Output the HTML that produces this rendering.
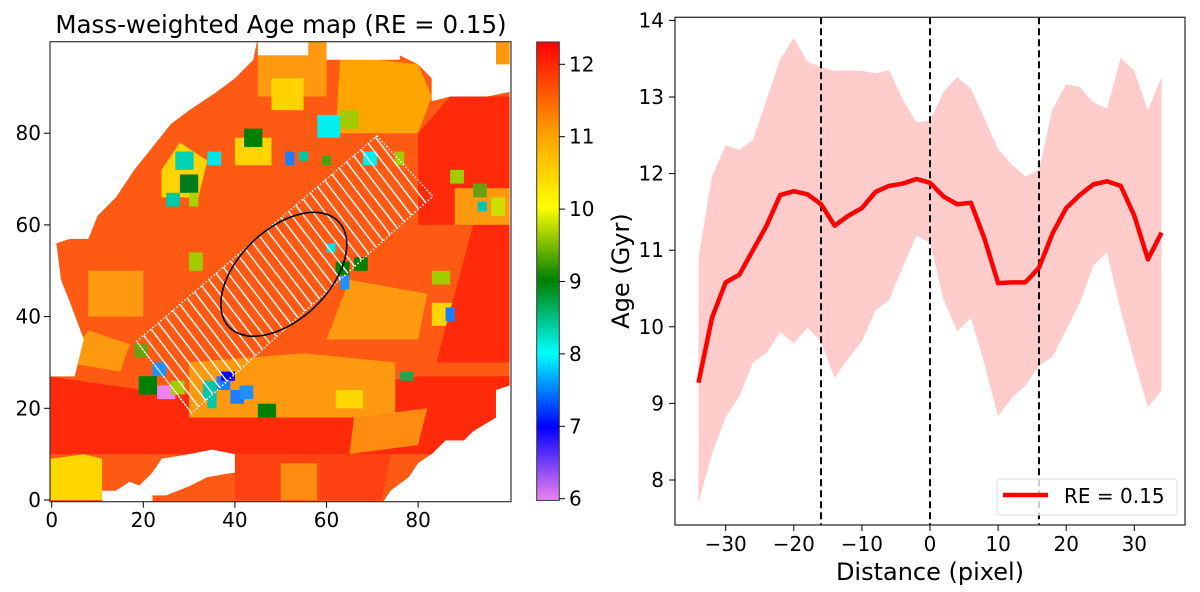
<!DOCTYPE html>
<html><head><meta charset="utf-8"><style>
body{margin:0;background:#fff;}
svg{display:block;font-family:"DejaVu Sans","Liberation Sans",sans-serif;}
</style></head><body>
<svg id="fig" width="1200" height="592" viewBox="0 0 1200 592">
<defs>
<linearGradient id="cbar" x1="0" y1="1" x2="0" y2="0">
<stop offset="0" stop-color="#ee82ee"/>
<stop offset="0.16" stop-color="#0000ff"/>
<stop offset="0.32" stop-color="#00ffff"/>
<stop offset="0.48" stop-color="#008000"/>
<stop offset="0.64" stop-color="#ffff00"/>
<stop offset="0.80" stop-color="#ffa000"/>
<stop offset="1" stop-color="#ff0000"/>
</linearGradient>
<clipPath id="mapclip"><rect x="50" y="41.7" width="461" height="460"/></clipPath>
<clipPath id="outlineclip"><polygon id="outlinepoly" points="0,0"/></clipPath>
<clipPath id="slitclip"><polygon points="376.9,135.8 432.7,196.2 191.5,413.2 136.5,341.5"/></clipPath>
</defs>
<g id="left"></g>
<g id="right"></g>
</svg>
<script>
// ---------- profile data ----------
const distances = [-34,-32,-30,-28,-26,-24,-22,-20,-18,-16,-14,-12,-10,-8,-6,-4,-2,0,2,4,6,8,10,12,14,16,18,20,22,24,26,28,30,32,34];
const ageMean = [9.27,10.12,10.58,10.68,11.0,11.32,11.72,11.77,11.73,11.6,11.32,11.45,11.55,11.76,11.84,11.87,11.93,11.88,11.7,11.6,11.62,11.15,10.57,10.58,10.58,10.77,11.22,11.55,11.72,11.86,11.9,11.84,11.45,10.88,11.23];
const ageUpper = [10.9,11.97,12.37,12.31,12.44,12.97,13.49,13.77,13.46,13.39,13.34,13.35,13.34,13.31,13.35,12.97,12.67,12.69,13.07,13.26,13.11,12.72,12.32,12.12,11.96,12.05,12.84,13.17,13.13,12.93,12.85,13.51,13.34,12.83,13.26];
const ageLower = [7.70,8.35,8.82,9.09,9.53,9.66,9.93,9.78,9.99,9.81,9.33,9.59,9.81,10.22,10.35,10.78,11.19,11.1,10.35,9.94,10.12,9.51,8.83,9.07,9.23,9.49,9.61,9.96,10.31,10.8,10.97,10.21,9.56,8.95,9.17];
const xTicks = [-30,-20,-10,0,10,20,30];
const yTicks = [8,9,10,11,12,13,14];
const vLines = [-16,0,16];
// ---------- map ticks ----------
const mapXTicks = [0,20,40,60,80];
const mapYTicks = [0,20,40,60,80];
const cbarTicks = [6,7,8,9,10,11,12];

const NS="http://www.w3.org/2000/svg";
function mk(parent,tag,attrs,text){const e=document.createElementNS(NS,tag);for(const k in attrs)e.setAttribute(k,attrs[k]);if(text!==undefined)e.textContent=text;parent.appendChild(e);return e;}

// ===== RIGHT PANEL =====
const R=document.getElementById('right');
const px=v=>930+v*6.81;
const py=v=>480-(v-8)*76.6;
let band=distances.map((d,i)=>px(d)+','+py(ageUpper[i])).join(' ')+' '+distances.slice().reverse().map((d,j)=>{const i=distances.length-1-j;return px(d)+','+py(ageLower[i]);}).join(' ');
const bandEl=mk(R,'polygon',{points:band,fill:'#ffcccc',stroke:'none'});


vLines.forEach(v=>{
  const l=mk(R,'line',{x1:px(v),x2:px(v),y1:17.3,y2:525,stroke:'#000','stroke-width':2,'stroke-dasharray':'7,4'});
  
  
});
const line=mk(R,'polyline',{points:distances.map((d,i)=>px(d)+','+py(ageMean[i])).join(' '),fill:'none',stroke:'#ff0000','stroke-width':4.5,'stroke-linejoin':'round'});


const frame=mk(R,'rect',{x:675,y:17.3,width:510,height:507.7,fill:'none',stroke:'#333','stroke-width':1.3});


xTicks.forEach(t=>{
  mk(R,'line',{x1:px(t),x2:px(t),y1:525,y2:531,stroke:'#000'});
  const tx=mk(R,'text',{x:px(t),y:551,'font-size':20,'text-anchor':'middle'},(t<0?'\u2212':'')+Math.abs(t));
  
  
});
yTicks.forEach(t=>{
  mk(R,'line',{x1:669,x2:675,y1:py(t),y2:py(t),stroke:'#000'});
  const tx=mk(R,'text',{x:664,y:py(t)+7,'font-size':20,'text-anchor':'end'},String(t));
  
  
});
const xl=mk(R,'text',{x:930,y:580,'font-size':24,'text-anchor':'middle'},'Distance (pixel)');


const yl=mk(R,'text',{x:0,y:0,'font-size':24,'text-anchor':'middle',transform:'translate(629,271) rotate(-90)'},'Age (Gyr)');


const lg=mk(R,'g',{});


mk(lg,'rect',{x:997,y:479,width:180,height:36,fill:'#fff','fill-opacity':0.8,stroke:'#ddd',rx:3});
mk(lg,'line',{x1:1003,x2:1048,y1:495,y2:495,stroke:'#ff0000','stroke-width':4.5});
mk(lg,'text',{x:1064,y:503,'font-size':20},'RE = 0.15');

// ===== LEFT PANEL =====
const L=document.getElementById('left');
const mx=x=>51.7+x*4.58, my=y=>500-y*4.585;
const P=pts=>pts.map(p=>mx(p[0]).toFixed(1)+','+my(p[1]).toFixed(1)).join(' ');
const img=mk(L,'g',{'clip-path':'url(#mapclip)'});


const outline=[[-1,-1],[-1,27],[5,27],[7,35],[4,43],[2,48],[1,56],[4,57],[8,57],[10,62],[14,66],[18,72],[22,77],[26,82],[30,85],[36,89],[40,92],[44,96],[45,101],[60,101],[60,97],[63,98],[70,96],[76,97],[80,95],[83,92],[83,87],[87,88],[95,88],[100,89],[100,25],[97,24],[97,18],[92,15],[90,13],[86,13],[83,10],[80,8],[78,5],[74,2],[72,-1]];
document.getElementById('outlinepoly').setAttribute('points',P(outline));
const inner=mk(img,'g',{'clip-path':'url(#outlineclip)'});
mk(inner,'polygon',{points:P(outline),fill:'#ff5a14'});
const patches=[
 ['#ff2a0a',[[-1,10],[100,10],[100,27],[80,27],[60,24],[40,22],[20,24],[-1,27]]],
 ['#ff4010',[[40,0],[72,0],[74,10],[40,10]]],
 ['#ff2a0a',[[80,60],[100,60],[100,88],[87,88],[80,80]]],
 ['#ff9a10',[[45,88],[60,88],[60,101],[45,101]]],
 ['#ffa500',[[62,80],[80,80],[83,88],[80,95],[63,97]]],
 ['#ffd200',[[48,85],[55,85],[55,92],[48,92]]],
 ['#ff9a10',[[30,18],[75,18],[75,30],[55,32],[30,30]]],
 ['#ffd700',[[62,20],[68,20],[68,24],[62,24]]],
 ['#ffd700',[[-1,0],[11,0],[11,9],[7,10],[0,9],[-1,9]]],
 ['#ff9a10',[[8,40],[20,40],[20,50],[8,50]]],
 ['#ff9a10',[[3,30],[15,28],[17,34],[8,37]]],
 ['#ff9a10',[[60,35],[80,35],[82,45],[65,48]]],
 ['#ffd400',[[24,66],[32,66],[34,74],[28,78],[24,72]]],
 ['#ffd400',[[83,38],[90,38],[90,43],[83,43]]],
 ['#ffd400',[[40,73],[48,73],[48,79],[40,79]]],
 ['#ff9a10',[[88,60],[100,60],[100,68],[88,68]]],
 ['#ff2a0a',[[84,30],[100,30],[100,60],[92,60]]],
 ['#ff8c10',[[50,0],[58,0],[58,8],[50,8]]],
 ['#ff8c10',[[65,10],[80,12],[82,20],[66,18]]]
];
patches.forEach(p=>mk(inner,'polygon',{points:P(p[1]),fill:p[0]}));
const spots=[
 ['#00d2b4',[27,72,4,4]],['#007c1e',[28,67,4,4]],['#00c8a8',[25,64,3,3]],['#aad200',[30,64,2,3]],
 ['#00e5e5',[34,73,3,3]],['#008000',[42,77,4,4]],['#1e7cff',[51,73,2,3]],['#00c8a8',[54,74,2,2]],
 ['#00f0f0',[58,79,5,5]],['#a0cc00',[63,81,4,4]],['#4aa010',[59,73,2,2]],['#00f0f0',[68,73,3,3]],
 ['#a0cc00',[75,73,2,3]],['#a0cc00',[87,69,3,3]],['#6aa010',[92,66,3,3]],['#00c8a8',[93,63,2,2]],['#cce000',[96,62,3,4]],
 ['#008000',[62,49,3,3]],['#008000',[66,50,3,3]],['#1e90ff',[63,46,2,3]],['#00e0e0',[60,54,2,2]],['#a0cc00',[30,50,3,4]],
 ['#a0cc00',[83,47,4,3]],['#1e7cff',[86,39,2,3]],['#6aa010',[18,31,3,3]],['#1e90ff',[22,27,3,3]],['#008000',[19,23,4,4]],
 ['#ee82ee',[23,22,4,3]],['#a0cc00',[26,23,3,3]],['#00c8a8',[33,22,3,4]],['#1e7cff',[36,24,3,3]],['#0000ff',[37,26,3,2]],
 ['#1e7cff',[39,21,3,3]],['#1e90ff',[41,22,3,3]],['#008000',[45,18,4,3]],['#2aa050',[76,26,3,2]],['#00c8a8',[34,20,2,3]]
];
spots.forEach(s=>{const [x,y,w,h]=s[1];mk(inner,'rect',{x:mx(x),y:my(y+h),width:w*4.58,height:h*4.585,fill:s[0]});});
const whites=[
 [[18,2],[22,6],[24,9],[30,10],[35,11],[40,10],[40,6],[34,5],[30,3],[25,1],[20,1]],
 [[11,-1],[22,-1],[22,2],[17,4],[14,2],[11,2]],
 [[45,101],[45,97],[56,97],[56,101]],
 [[60,101],[60,96],[76,96],[76,101]],
 [[100,101],[97,101],[97,95],[100,95]]
];
whites.forEach((w,i)=>mk(img,'polygon',{points:P(w),fill:i==4?'#ff9a10':'#fff'}));
// slit
const slit=mk(L,'g',{});


mk(slit,'polygon',{points:'376.9,135.8 432.7,196.2 191.5,413.2 136.5,341.5',fill:'none',stroke:'#fff','stroke-width':1.5,'stroke-dasharray':'1.5,2'});
const sg=mk(slit,'g',{'clip-path':'url(#slitclip)'});
const A=[191.5,413.2],B=[432.7,196.2],S=[-55,-71.7];
for(let k=0;k<=34;k++){const t=k/34;const x=A[0]+(B[0]-A[0])*t,y=A[1]+(B[1]-A[1])*t;mk(sg,'line',{x1:x,y1:y,x2:x+S[0],y2:y+S[1],stroke:'#fff','stroke-width':1.4});}
const ell=mk(L,'ellipse',{cx:283.8,cy:274.3,rx:76,ry:45,fill:'none',stroke:'#000','stroke-width':1.6,transform:'rotate(-44 283.8 274.3)'});


mk(L,'rect',{x:50,y:41.7,width:461,height:460,fill:'none',stroke:'#333','stroke-width':1.2});
mapXTicks.forEach(t=>{mk(L,'line',{x1:mx(t),x2:mx(t),y1:501.7,y2:507.7,stroke:'#000'});
 const tx=mk(L,'text',{x:mx(t),y:527,'font-size':20,'text-anchor':'middle'},String(t));
 
 });
mapYTicks.forEach(t=>{mk(L,'line',{x1:44,x2:50,y1:my(t),y2:my(t),stroke:'#000'});
 const tx=mk(L,'text',{x:41,y:my(t)+7,'font-size':20,'text-anchor':'end'},String(t));
 
 });
const title=mk(L,'text',{x:281,y:33,'font-size':24.5,'text-anchor':'middle'},'Mass-weighted Age map (RE = 0.15)');


const cb=mk(L,'rect',{x:536.7,y:42,width:22.6,height:458.4,fill:'url(#cbar)',stroke:'#333','stroke-width':1});


const cy=v=>498.7-(v-6)*72.4;
cbarTicks.forEach(t=>{mk(L,'line',{x1:559.3,x2:565,y1:cy(t),y2:cy(t),stroke:'#000'});
 const tx=mk(L,'text',{x:569,y:cy(t)+7,'font-size':20},String(t));
 
 });
</script>
</body></html>
